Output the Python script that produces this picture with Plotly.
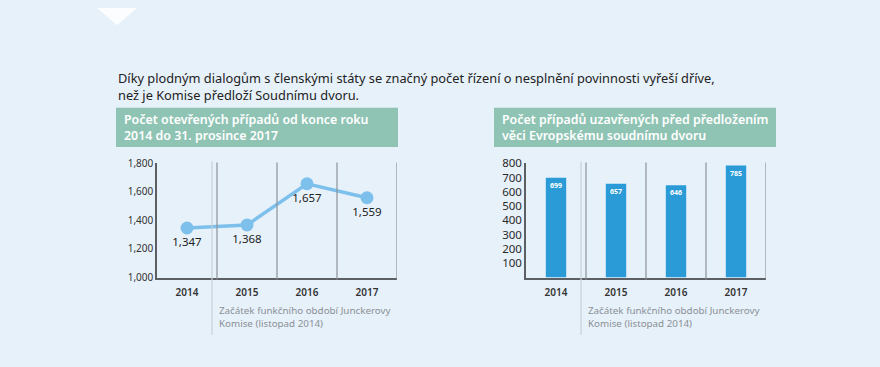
import plotly.graph_objects as go

years = ["2014", "2015", "2016", "2017"]
open_cases = [1347, 1368, 1657, 1559]
closed_cases = [699, 657, 646, 785]
left_ticks = [1000, 1200, 1400, 1600, 1800]
right_ticks = [100, 200, 300, 400, 500, 600, 700, 800]

intro = ("Díky plodným dialogům s členskými státy se značný počet řízení o nesplnění povinnosti vyřeší dříve,<br>"
         "než je Komise předloží Soudnímu dvoru.")
left_title = "Počet otevřených případů od konce roku<br>2014 do 31. prosince 2017"
right_title = "Počet případů uzavřených před předložením<br>věci Evropskému soudnímu dvoru"
note = "Začátek funkčního období Junckerovy<br>Komise (listopad 2014)"

W, H = 880, 367
def px(x):
    return x / W
def py(y):
    return 1 - y / H

BG = "#e7f1fa"
HEAD = "#8fc4b4"
FONT = "Noto Sans"
DARK = "#333333"

fig = go.Figure()

fig.add_trace(go.Scatter(
    x=years, y=open_cases, mode="lines+markers+text",
    line=dict(color="#7dc0ec", width=3.5),
    marker=dict(color="#7dc0ec", size=13),
    text=[f"{v:,}" for v in open_cases], textposition="bottom center",
    textfont=dict(family=FONT, size=11.5, color="#222"),
    xaxis="x", yaxis="y", cliponaxis=False, hoverinfo="skip"))

fig.add_trace(go.Bar(
    x=years, y=closed_cases, width=0.34, marker=dict(color="#2b9bd7", line=dict(width=0)),
    text=[str(v) for v in closed_cases], textposition="inside", insidetextanchor="end",
    textfont=dict(family=FONT, size=7, color="white", weight="bold"),
    constraintext="none", textangle=0,
    xaxis="x2", yaxis="y2", hoverinfo="skip"))

ydom = [py(281), py(162)]
axis_common = dict(showline=True, linecolor="#5c5f63", linewidth=1.5, showgrid=False,
                   zeroline=False, ticks="")
fig.update_layout(
    width=W, height=H, margin=dict(l=0, r=0, t=0, b=0),
    paper_bgcolor=BG, plot_bgcolor=BG, showlegend=False,
    xaxis=dict(domain=[px(157), px(397)], type="category", range=[-0.5, 3.5],
               anchor="y", ticklabelstandoff=5,
               tickfont=dict(family=FONT, size=10, color=DARK, weight=600),
               **axis_common),
    yaxis=dict(domain=ydom, range=[1000, 1800], tickvals=left_ticks, tickformat=",",
               anchor="x", tickfont=dict(family=FONT, size=10, color=DARK), **axis_common),
    xaxis2=dict(domain=[px(526), px(766)], type="category", range=[-0.5, 3.5],
                anchor="y2", ticklabelstandoff=5,
                tickfont=dict(family=FONT, size=10, color=DARK, weight=600),
                **axis_common),
    yaxis2=dict(domain=ydom, range=[0, 800], tickvals=right_ticks,
                anchor="x2", tickfont=dict(family=FONT, size=11.5, color="#2a2a2a"), **axis_common),
)

shapes = []
# white triangle at top
shapes.append(dict(type="path", xref="paper", yref="paper",
                   path=f"M {px(97)} {py(0)} L {px(137)} {py(0)} L {px(117)} {py(18)} Z",
                   fillcolor="white", line=dict(width=0), opacity=0.85, layer="below"))
# header boxes
for x0, x1 in [(116, 398), (494, 776)]:
    shapes.append(dict(type="rect", xref="paper", yref="paper",
                       x0=px(x0), x1=px(x1), y0=py(145), y1=py(104),
                       fillcolor=HEAD, line=dict(width=0), layer="below"))
# category separators
for xr in ["x", "x2"]:
    for b in [0.5, 1.5, 2.5, 3.5]:
        shapes.append(dict(type="line", xref=xr, yref="paper", x0=b, x1=b,
                           y0=py(283), y1=py(161), line=dict(color="#8d9297", width=1.2)))
# Juncker start lines
for x in [212, 581]:
    shapes.append(dict(type="line", xref="paper", yref="paper", x0=px(x), x1=px(x),
                       y0=py(341), y1=py(160), line=dict(color="#c8d0d7", width=1.2)))
fig.update_layout(shapes=shapes)

ann = []
ann.append(dict(text=intro, x=px(116), y=py(61), xref="paper", yref="paper",
                xanchor="left", yanchor="top", align="left", showarrow=False,
                font=dict(family=FONT, size=12.8, color="#222")))
for x0, t in [(122, left_title), (500, right_title)]:
    ann.append(dict(text=t, x=px(x0), y=py(124.5), xref="paper", yref="paper",
                    xanchor="left", yanchor="middle", align="left", showarrow=False,
                    font=dict(family=FONT, size=12.4, color="white", weight=600)))
for x0 in [217, 586]:
    ann.append(dict(text=note, x=px(x0), y=py(307), xref="paper", yref="paper",
                    xanchor="left", yanchor="top", align="left", showarrow=False,
                    font=dict(family=FONT, size=9.8, color="#8a9096")))
fig.update_layout(annotations=ann)

fig.write_html("out.html", config={"displayModeBar": False},
               post_script="document.body.style.margin='0';document.body.style.background='#e7f1fa';")
